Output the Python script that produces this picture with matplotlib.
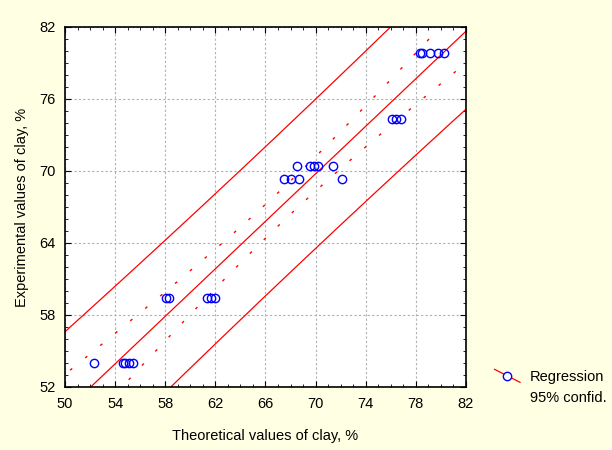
import numpy as np
import matplotlib
matplotlib.use("Agg")
import matplotlib.pyplot as plt
from matplotlib.ticker import FixedLocator, MultipleLocator
from matplotlib.lines import Line2D
from matplotlib.legend_handler import HandlerBase

plt.rcParams['font.family'] = ['Liberation Sans', 'DejaVu Sans']

# data (theoretical x, experimental y)
x_theor = [52.35, 54.6, 54.8, 55.1, 55.4,
           58.1, 58.3, 61.3, 61.65, 62.0,
           67.45, 68.05, 68.7, 72.1,
           68.55, 69.55, 69.9, 70.2, 71.4,
           76.1, 76.45, 76.85,
           78.3, 78.5, 79.1, 79.8, 80.25]
y_exper = [54.0, 54.0, 54.0, 54.0, 54.0,
           59.45, 59.45, 59.45, 59.45, 59.45,
           69.35, 69.35, 69.35, 69.35,
           70.4, 70.4, 70.4, 70.4, 70.4,
           74.35, 74.35, 74.35,
           79.8, 79.8, 79.8, 79.8, 79.8]

# regression line and band scales
reg_slope = 0.99
reg_intercept = 0.47
pred_scale = 6.1
conf_scale = 7.2

x = np.array(x_theor)
y = np.array(y_exper)
n = len(x)
xm = x.mean()
sxx = ((x - xm)**2).sum()

xx = np.linspace(48, 84, 200)
yy = reg_intercept + reg_slope * xx
h = 1.0 / n + (xx - xm)**2 / sxx
conf = conf_scale * np.sqrt(h)
pred = pred_scale * np.sqrt(1 + h)

red = '#FF0000'
blue = '#0000FF'


class SlantHandler(HandlerBase):
    # red line going down to the right, blue circle in the middle
    def create_artists(self, legend, orig_handle, xdescent, ydescent,
                       width, height, fontsize, trans):
        x0, x1 = -xdescent, width - xdescent
        y0, y1 = height - ydescent + 1, -ydescent - 1
        ln = Line2D([x0, x1], [y0, y1], color=red, lw=0.9, transform=trans)
        mk = Line2D([(x0 + x1) / 2], [(y0 + y1) / 2], marker='o', ms=6,
                    mfc='white', mec=blue, mew=1.0, ls='none', transform=trans)
        return [ln, mk]


fig = plt.figure(figsize=(6.12, 4.5), dpi=100, facecolor='#FFFFE3')
ax = fig.add_axes([0.1062, 0.14, 0.6552, 0.80])
ax.set_facecolor('white')

ax.plot(xx, yy, color=red, lw=0.9)
ax.plot(xx, yy + pred, color=red, lw=0.9)
ax.plot(xx, yy - pred, color=red, lw=0.9)
ax.plot(xx, yy + conf, color=red, lw=1.0, linestyle=(0, (2, 12)))
ax.plot(xx, yy - conf, color=red, lw=1.0, linestyle=(0, (2, 12)))
ax.plot(x, y, 'o', mfc='none', mec=blue, ms=6, mew=1.0, zorder=5)

ax.set_xlim(50, 82)
ax.set_ylim(52, 82)
ax.xaxis.set_major_locator(FixedLocator(np.arange(50, 83, 4)))
ax.yaxis.set_major_locator(FixedLocator(np.arange(52, 83, 6)))
ax.xaxis.set_minor_locator(MultipleLocator(1))
ax.yaxis.set_minor_locator(MultipleLocator(1))
ax.tick_params(which='both', direction='in', top=True, right=True, color='black')
ax.tick_params(which='major', length=4, labelsize=10.5, pad=7)
ax.tick_params(which='minor', length=2.5)
ax.grid(True, which='major', color='#B0B0B0', linestyle=(0, (2, 2)), lw=0.8)
for s in ax.spines.values():
    s.set_linewidth(1.2)

ax.set_xlabel('Theoretical values of clay, %', fontsize=10.5, labelpad=13)
ax.set_ylabel('Experimental values of clay, %', fontsize=10.5, labelpad=7)

h1 = Line2D([], [])
h2 = Line2D([], [], color='none')
fig.legend([h1, h2], ['Regression', '95% confid.'], loc='upper left',
           bbox_to_anchor=(0.808, 0.178), frameon=False, fontsize=10.5,
           borderpad=0, borderaxespad=0, handler_map={h1: SlantHandler()},
           handlelength=1.75, labelspacing=0.5, handletextpad=0.7)

fig.savefig('out.png', dpi=100, facecolor=fig.get_facecolor())
